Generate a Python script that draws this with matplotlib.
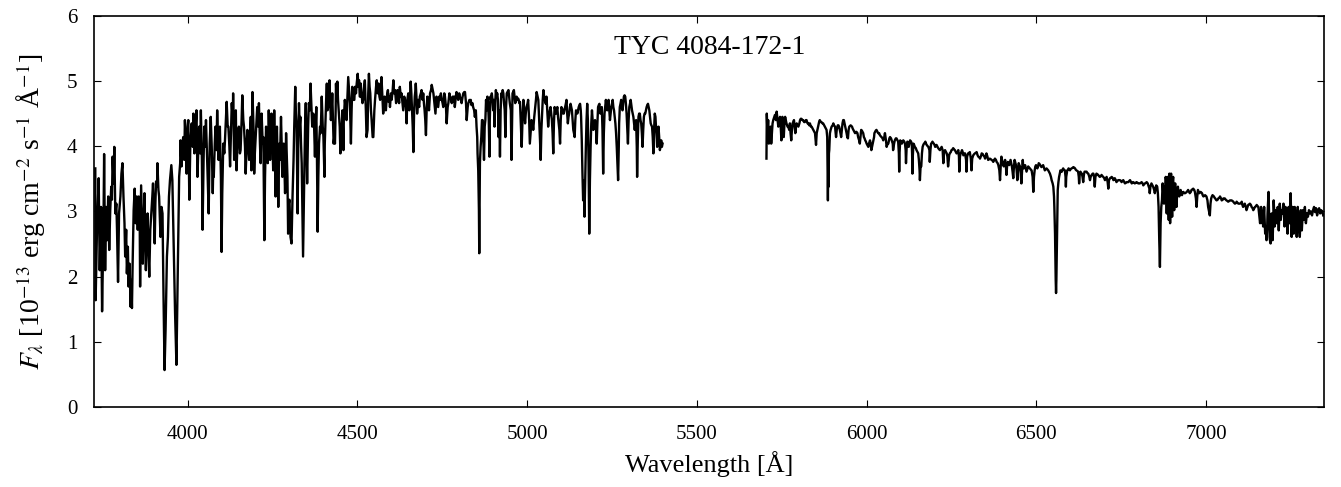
import matplotlib
matplotlib.use("Agg")
import matplotlib.pyplot as plt

# blue arm of the spectrum (Angstrom, 1e-13 erg/cm2/s/A)
blue_wave = [
    3728, 3729, 3733, 3738, 3741, 3745, 3748, 3752, 3754, 3757,
    3760, 3763, 3766, 3769, 3772, 3775, 3777, 3779, 3782, 3784,
    3787, 3790, 3792, 3795, 3798, 3802, 3805, 3808, 3811, 3814,
    3816, 3819, 3821, 3824, 3826, 3829, 3832, 3834, 3836, 3838,
    3841, 3844, 3847, 3850, 3853, 3856, 3859, 3860, 3863, 3866,
    3868, 3871, 3873, 3875, 3877, 3880, 3882, 3885, 3887, 3890,
    3893, 3896, 3898, 3901, 3903, 3905, 3907, 3910, 3911, 3914,
    3916, 3920, 3923, 3926, 3929, 3932, 3935, 3939, 3942, 3945,
    3948, 3952, 3955, 3957, 3960, 3963, 3967, 3970, 3973, 3975,
    3978, 3979, 3982, 3985, 3987, 3990, 3992, 3995, 3997, 4000,
    4002, 4005, 4008, 4012, 4015, 4017, 4020, 4022, 4025, 4026,
    4029, 4032, 4034, 4037, 4039, 4042, 4044, 4047, 4049, 4052,
    4054, 4057, 4059, 4062, 4065, 4068, 4071, 4074, 4076, 4077,
    4080, 4082, 4085, 4087, 4089, 4091, 4093, 4095, 4098, 4100,
    4102, 4105, 4108, 4110, 4113, 4115, 4118, 4120, 4123, 4125,
    4128, 4130, 4133, 4134, 4137, 4139,
    4142, 4144, 4148, 4151, 4154, 4156, 4159, 4161, 4164, 4166,
    4169, 4171, 4174, 4176, 4179, 4181, 4184, 4186, 4188, 4191,
    4194, 4196, 4198, 4200, 4203, 4205, 4208, 4210, 4213, 4215,
    4218, 4221, 4223, 4226, 4228, 4231, 4234, 4236, 4238, 4239,
    4241, 4243, 4245, 4247, 4250, 4252, 4255, 4257, 4259, 4261,
    4263, 4265, 4267, 4270, 4272, 4275, 4277, 4279, 4281, 4283,
    4285, 4287, 4290, 4292, 4294, 4296, 4298, 4300, 4303, 4306,
    4308, 4309, 4312, 4314, 4317, 4319, 4321, 4324, 4326, 4328,
    4330, 4332, 4334, 4336, 4338, 4340, 4342, 4344, 4346, 4348,
    4350, 4352, 4355, 4357, 4360, 4362, 4365, 4367, 4370, 4372,
    4375, 4377, 4379, 4381, 4383, 4385, 4387, 4390, 4392, 4395,
    4398, 4400, 4403, 4404, 4406, 4408, 4410, 4412, 4414, 4416,
    4418, 4420, 4422, 4424, 4426, 4428, 4430, 4432, 4434, 4436,
    4437, 4439, 4441, 4443, 4445, 4448, 4450, 4452, 4454, 4456,
    4459, 4460, 4463, 4466, 4468, 4471, 4473, 4476, 4478, 4481,
    4483, 4485, 4488, 4491, 4493, 4496, 4498, 4501, 4503, 4505,
    4507, 4509, 4510, 4512, 4515, 4517, 4520, 4522, 4525, 4527,
    4530, 4532, 4534, 4536, 4538, 4540, 4542, 4545, 4547, 4550,
    4552, 4555, 4557, 4560, 4562, 4565, 4567, 4569, 4571, 4574,
    4576,
    4578, 4580, 4582, 4584, 4586, 4588, 4590, 4592, 4594, 4596,
    4599, 4601, 4604, 4606, 4608, 4611, 4614, 4616, 4618, 4620,
    4623, 4625, 4628, 4630, 4633, 4635, 4638, 4640, 4643, 4645,
    4647, 4650, 4653, 4655, 4657, 4659, 4661, 4663, 4665, 4667,
    4669, 4671, 4672, 4674, 4676, 4679, 4682, 4684, 4687, 4689,
    4692, 4694, 4696, 4698, 4700, 4702, 4704, 4706, 4709, 4711,
    4714, 4717, 4719, 4722, 4724, 4726, 4728, 4730, 4733, 4736,
    4738, 4741, 4743, 4746, 4748, 4751, 4753, 4756, 4758, 4761,
    4763, 4766, 4768, 4771, 4773, 4776, 4778, 4781, 4782, 4785,
    4787, 4790, 4792, 4795, 4797, 4800, 4802, 4805, 4807, 4810,
    4812, 4815, 4817, 4820, 4822, 4825, 4827, 4830, 4832, 4834,
    4836, 4839, 4841, 4844, 4846, 4849, 4851, 4853, 4854, 4856,
    4858, 4859, 4860, 4861, 4863, 4865, 4867, 4869, 4871, 4873,
    4875, 4877, 4879, 4881, 4883, 4885, 4887, 4889, 4890, 4892,
    4894, 4896, 4898, 4900, 4902, 4904, 4906, 4908, 4910, 4912,
    4914, 4916, 4918, 4920, 4922, 4924, 4926, 4928, 4930, 4932,
    4934, 4936, 4938, 4940, 4942, 4945, 4947, 4949, 4952, 4954,
    4956, 4957, 4959, 4961, 4963, 4965, 4967, 4969, 4972, 4974,
    4977, 4979,
    4984, 4987, 4989, 4992, 4994, 4996, 4998, 5001, 5003, 5006,
    5008, 5011, 5013, 5016, 5018, 5021, 5023, 5026, 5028, 5031,
    5033, 5036, 5038, 5040, 5042, 5044, 5046, 5048, 5050, 5052,
    5055, 5057, 5060, 5062, 5065, 5067, 5069, 5071, 5073, 5075,
    5077, 5079, 5081, 5083, 5085, 5087, 5089, 5091, 5093, 5095,
    5097, 5099, 5101, 5103, 5105, 5106, 5108, 5110, 5112, 5114,
    5116, 5118, 5120, 5122, 5124, 5126, 5128, 5130, 5132, 5134,
    5136, 5138, 5140, 5142, 5144, 5146, 5148, 5150, 5152, 5154,
    5156, 5158, 5159, 5161, 5163, 5165, 5167, 5169, 5171, 5173,
    5175, 5177, 5179, 5181, 5183, 5185, 5187, 5189, 5191, 5193,
    5195, 5197, 5200, 5203, 5205, 5207, 5209, 5211, 5213, 5214,
    5216, 5218, 5220, 5222, 5224, 5226, 5228, 5230, 5232, 5234,
    5236, 5238, 5240, 5242, 5244, 5246, 5248, 5250, 5252, 5254,
    5256, 5258, 5260, 5262, 5264, 5266, 5268, 5270, 5271, 5273,
    5275, 5277, 5279, 5281, 5283, 5285, 5287, 5289, 5291, 5293,
    5295, 5297, 5299, 5301, 5303, 5305, 5307, 5309, 5311, 5313,
    5315, 5317, 5319, 5321, 5323, 5324, 5326, 5328, 5330, 5332,
    5334, 5336, 5338, 5340, 5342, 5344, 5346, 5348, 5350, 5352,
    5354, 5356, 5358, 5360, 5362, 5364, 5366, 5368, 5370, 5372,
    5374, 5376, 5378, 5379, 5381, 5383, 5385, 5387, 5389, 5391,
    5393, 5395, 5397, 5399,
]
blue_flux = [
    3.66, 1.64, 2.72, 3.51, 2.10, 3.07, 1.47, 2.72, 3.88, 2.10,
    3.07, 2.56, 3.23, 2.41, 3.02, 3.38, 3.18, 3.84, 3.43, 3.99,
    2.97, 3.12, 2.72, 1.92, 2.97, 3.23, 3.58, 3.74, 3.23, 2.82,
    2.31, 2.72, 2.05, 2.46, 1.85, 2.20, 1.54, 1.95, 1.52, 2.20,
    3.02, 3.35, 2.82, 3.23, 2.72, 3.23, 2.72, 1.85, 3.40, 2.72,
    2.20, 2.97, 3.28, 2.56, 2.10, 2.82, 2.97, 2.31, 2.00, 2.72,
    2.97, 3.23, 3.43, 2.92, 2.51, 3.12, 3.46, 3.38, 3.74, 3.33,
    3.23, 2.61, 3.07, 2.97, 1.69, 0.57, 1.18, 2.31, 2.61, 3.23,
    3.48, 3.71, 3.48, 2.97, 2.15, 1.44, 0.65, 1.69, 2.72, 3.53,
    3.74, 4.09, 3.69, 4.04, 4.14, 3.79, 4.40, 3.99, 3.58, 4.30,
    4.40, 3.18, 4.04, 4.35, 3.99, 4.50, 3.89, 4.14, 4.45, 4.55,
    3.53, 4.04, 4.30, 3.89, 4.55, 3.79, 2.72, 3.79, 4.30, 3.99,
    4.40, 3.89, 3.53, 2.97, 4.04, 4.45, 3.99, 3.28, 3.79, 3.53,
    4.04, 4.30, 3.94, 4.55, 4.14, 3.79, 4.04, 4.30, 3.53, 2.38,
    3.28, 4.04, 3.89, 4.09, 4.45, 4.68, 4.30, 4.30, 3.99, 3.69,
    4.30, 4.66, 4.40, 4.81, 3.79, 4.30,
    4.55, 3.63, 4.20, 4.30, 3.89, 3.94, 4.40, 4.78, 4.40, 4.30,
    3.99, 3.58, 4.04, 4.25, 3.99, 3.79, 4.20, 4.45, 3.63, 4.83,
    4.30, 3.58, 3.89, 4.09, 4.40, 4.60, 4.30, 4.66, 4.04, 3.74,
    4.50, 4.04, 4.14, 2.56, 3.53, 4.30, 4.04, 3.74, 4.30, 4.55,
    4.14, 3.79, 4.30, 4.50, 4.04, 3.63, 4.55, 4.04, 3.23, 3.79,
    4.30, 3.79, 3.07, 4.04, 3.79, 4.45, 4.04, 3.53, 3.79, 4.04,
    3.69, 3.28, 4.20, 3.89, 3.53, 2.66, 3.12, 3.18, 2.61, 2.51,
    3.02, 3.23, 3.79, 4.30, 4.91, 4.50, 4.30, 2.97, 4.04, 4.66,
    4.30, 4.45, 4.04, 3.74, 3.02, 2.31, 3.02, 3.69, 4.30, 4.66,
    4.04, 3.43, 4.30, 4.66, 4.55, 4.96, 4.55, 4.30, 4.50, 4.40,
    3.84, 4.30, 4.60, 3.79, 2.69, 3.53, 4.04, 4.30, 4.20, 4.76,
    4.30, 4.14, 3.53, 4.04, 4.40, 4.71, 4.96, 4.55, 4.60, 4.81,
    5.01, 4.66, 4.40, 4.55, 4.81, 4.45, 4.04, 4.14, 4.04, 4.55,
    4.96, 4.71, 4.99, 4.71, 4.55, 4.30, 3.89, 4.14, 4.30, 4.55,
    3.94, 4.40, 4.71, 4.55, 4.40, 4.81, 5.06, 4.81, 4.66, 4.04,
    4.55, 4.91, 4.71, 4.71, 4.91, 4.81, 4.96, 5.11, 4.91, 5.01,
    4.76, 4.76, 4.96, 4.81, 4.66, 4.71, 4.91, 5.01, 4.55, 4.14,
    4.25, 4.81, 5.11, 4.91, 4.81, 4.55, 4.40, 4.14, 4.14, 4.55,
    4.71, 4.91, 5.01, 4.81, 4.96, 4.76, 4.71, 4.91, 5.06, 4.71,
    4.50,
    4.60, 4.76, 4.66, 4.55, 4.71, 4.81, 4.86, 4.68, 4.76, 4.60,
    4.81, 4.71, 4.86, 5.01, 4.81, 4.86, 4.66, 4.71, 4.86, 4.81,
    4.66, 4.91, 4.76, 4.81, 4.66, 4.55, 4.76, 4.71, 4.60, 4.35,
    4.71, 4.81, 4.55, 4.76, 4.99, 4.81, 4.55, 4.30, 3.91, 4.50,
    4.76, 4.86, 4.96, 4.76, 4.50, 4.71, 4.60, 4.76, 4.81, 4.86,
    4.71, 4.81, 4.66, 4.55, 4.40, 4.17, 4.55, 4.76, 4.66, 4.55,
    4.81, 4.86, 4.94, 4.86, 4.81, 4.71, 4.60, 4.50, 4.76, 4.66,
    4.60, 4.76, 4.71, 4.81, 4.73, 4.66, 4.60, 4.81, 4.76, 4.60,
    4.35, 4.60, 4.66, 4.81, 4.76, 4.71, 4.66, 4.76, 4.68, 4.76,
    4.60, 4.76, 4.83, 4.76, 4.71, 4.81, 4.76, 4.71, 4.66, 4.76,
    4.81, 4.83, 4.83, 4.66, 4.40, 4.60, 4.66, 4.71, 4.68, 4.71,
    4.63, 4.66, 4.60, 4.55, 4.45, 4.55, 4.30, 4.14, 3.89, 3.63,
    3.02, 2.36, 3.02, 3.74, 3.99, 4.14, 4.40, 4.40, 4.09, 3.79,
    4.30, 4.40, 4.71, 4.55, 4.76, 4.66, 4.40, 3.84, 4.40, 4.76,
    4.71, 4.81, 4.71, 4.55, 4.71, 4.30, 4.66, 4.86, 4.76, 4.81,
    4.71, 4.14, 4.55, 3.84, 4.55, 4.81, 4.76, 4.86, 4.81, 4.66,
    4.55, 4.14, 4.60, 4.81, 4.83, 4.86, 4.76, 4.66, 4.55, 3.79,
    4.55, 4.81, 4.83, 4.86, 4.76, 4.66, 4.71, 4.76, 4.71, 4.73,
    4.66, 4.68,
    3.99, 4.50, 4.71, 4.50, 4.35, 4.50, 4.60, 4.65, 4.71, 4.40,
    4.04, 4.25, 4.40, 4.35, 4.25, 4.45, 4.55, 4.71, 4.83, 4.76,
    4.71, 4.35, 4.09, 3.79, 4.25, 4.50, 4.71, 4.86, 4.76, 4.71,
    4.65, 4.76, 4.50, 4.30, 4.50, 4.55, 4.60, 4.50, 4.40, 4.20,
    3.89, 4.35, 4.60, 4.55, 4.50, 4.55, 4.60, 4.45, 4.35, 4.25,
    4.04, 4.40, 4.60, 4.58, 4.55, 4.50, 4.50, 4.55, 4.60, 4.65,
    4.71, 4.50, 4.35, 4.45, 4.50, 4.60, 4.65, 4.60, 4.55, 4.40,
    4.25, 4.20, 4.14, 4.40, 4.55, 4.53, 4.50, 4.55, 4.60, 4.63,
    4.65, 4.55, 4.45, 4.09, 3.58, 3.17, 3.48, 2.92, 3.48, 3.99,
    4.40, 4.65, 4.40, 3.74, 2.66, 3.48, 3.99, 4.35, 4.55, 4.40,
    4.25, 4.35, 4.40, 4.25, 4.04, 4.35, 4.60, 4.63, 4.65, 4.55,
    4.50, 4.55, 4.60, 4.25, 3.58, 4.20, 4.50, 4.60, 4.71, 4.60,
    4.55, 4.65, 4.71, 4.55, 4.40, 4.50, 4.60, 4.65, 4.71, 4.60,
    4.55, 4.45, 4.35, 4.20, 3.99, 3.74, 3.48, 3.99, 4.35, 4.60,
    4.65, 4.71, 4.60, 4.55, 4.65, 4.76, 4.78, 4.76, 4.65, 4.50,
    4.25, 4.04, 4.40, 4.60, 4.65, 4.71, 4.63, 4.55, 4.50, 4.45,
    4.35, 4.25, 4.35, 4.40, 3.99, 3.53, 4.09, 4.45, 4.50, 4.50,
    4.40, 4.35, 4.20, 3.99, 4.25, 4.45, 4.50, 4.50, 4.55, 4.60,
    4.63, 4.65, 4.60, 4.55, 4.45, 4.35, 4.32, 4.30, 4.14, 3.89,
    4.25, 4.50, 4.45, 4.35, 4.20, 3.99, 4.14, 4.30, 4.14, 3.94,
    3.99, 4.09, 3.99, 4.04,
]

# red arm of the spectrum
red_wave = [
    5705, 5706, 5708, 5710, 5712, 5714, 5717, 5719, 5721, 5723,
    5725, 5728, 5730, 5733, 5735, 5738, 5740, 5743, 5745, 5747,
    5749, 5751, 5752, 5754, 5756, 5758, 5760, 5762, 5764, 5767,
    5769, 5772, 5774, 5776, 5778, 5780, 5782, 5784, 5786, 5788,
    5790, 5792, 5794, 5797, 5799, 5802, 5804, 5806, 5808, 5811,
    5813, 5816, 5818, 5821, 5823, 5826, 5828, 5831, 5833, 5836,
    5838, 5841, 5843, 5846, 5848, 5851, 5853, 5855, 5857, 5859,
    5860, 5862, 5865, 5867, 5870, 5872, 5875, 5877, 5880, 5882,
    5884, 5885, 5886, 5887, 5888, 5889, 5890, 5892, 5894, 5897,
    5900, 5902, 5904, 5907, 5910, 5912, 5914, 5915, 5917, 5919,
    5921, 5923, 5925, 5927, 5929, 5931, 5933, 5935, 5937, 5939,
    5941, 5943, 5945, 5947, 5949, 5951, 5953, 5955, 5957, 5959,
    5961, 5964, 5966, 5969, 5970, 5973, 5975, 5978, 5980, 5982,
    5984, 5986, 5988, 5990, 5992, 5994, 5996, 5998, 6000, 6002,
    6005, 6007, 6010, 6012, 6014, 6016, 6018, 6020, 6022, 6023,
    6025, 6027, 6029, 6032, 6034, 6037, 6039, 6042, 6044, 6047,
    6049, 6052, 6054, 6057, 6059, 6062, 6064, 6067, 6069, 6072,
    6074, 6077, 6078, 6081, 6083, 6086, 6088, 6091, 6093, 6095,
    6096, 6097, 6099, 6101, 6104, 6106, 6108, 6111, 6113, 6115,
    6116, 6118, 6120, 6122, 6124, 6126, 6128, 6131, 6133, 6134,
    6135, 6136, 6138, 6140, 6142, 6145, 6147, 6150, 6152, 6154,
    6156, 6157, 6159, 6161, 6163, 6165, 6167, 6169, 6171, 6173,
    6175, 6177, 6180, 6182, 6185, 6186, 6188, 6190, 6192, 6194,
    6196, 6198, 6200, 6202, 6204, 6206, 6209, 6211, 6214, 6216,
    6219, 6221, 6224, 6226, 6228, 6231, 6234, 6236, 6238, 6240,
    6242, 6243, 6245, 6248, 6250, 6253, 6255, 6258, 6260, 6263,
    6265, 6268, 6270, 6272, 6273, 6275, 6277, 6279, 6281, 6283,
    6285, 6288, 6290, 6293, 6294, 6296, 6299, 6302, 6304, 6307,
    6309, 6311, 6314, 6317, 6319, 6322, 6324, 6327, 6329, 6332,
    6334, 6337, 6339, 6342, 6344, 6347, 6349, 6351, 6353, 6356,
    6358, 6361, 6363, 6366, 6368, 6371, 6373, 6376, 6378, 6381,
    6383, 6386, 6388, 6391, 6393, 6395, 6397, 6399, 6401, 6403,
    6404, 6406, 6408, 6410, 6412, 6414, 6416, 6418, 6420, 6422,
    6424, 6426, 6428, 6430, 6432, 6434, 6436, 6438, 6440, 6442,
    6444, 6446, 6448, 6450, 6452, 6454, 6456, 6458, 6460, 6461,
    6463, 6465, 6467, 6469, 6471, 6474, 6476, 6479, 6481, 6484,
    6486, 6489, 6491, 6493, 6495, 6497, 6499, 6501, 6503, 6505,
    6507, 6509, 6515, 6520, 6525, 6530, 6535, 6540, 6543, 6545,
    6548, 6550, 6552, 6553, 6555, 6556, 6557, 6558, 6559, 6560,
    6561, 6562, 6563, 6565, 6567, 6569, 6571, 6573, 6575, 6577,
    6579, 6581, 6584, 6586, 6587, 6588, 6591, 6593, 6595, 6597,
    6599, 6601, 6604, 6607, 6609, 6612, 6614, 6616, 6618, 6621,
    6623, 6625, 6626, 6628, 6630, 6632, 6634, 6636, 6638, 6640,
    6642, 6645, 6648, 6650, 6653, 6656, 6658, 6660, 6663, 6666,
    6668, 6670, 6672, 6674, 6677, 6680, 6682, 6685, 6687, 6690,
    6692, 6695, 6697, 6700, 6702, 6705, 6707, 6710, 6712, 6714,
    6717, 6720, 6722, 6725, 6727, 6729, 6731, 6734, 6736, 6739,
    6741, 6744, 6746, 6749, 6751, 6754, 6756, 6759, 6761, 6764,
    6766, 6769, 6771, 6774, 6776, 6779, 6781, 6783, 6785, 6788,
    6790, 6793, 6795, 6798, 6800, 6803, 6805, 6808, 6810, 6813,
    6815, 6818, 6820, 6823, 6825, 6828, 6830, 6833, 6834, 6836,
    6839, 6842, 6844, 6847, 6849, 6851, 6853, 6856, 6858, 6860,
    6862, 6864, 6866, 6868, 6870, 6872, 6874, 6876, 6878, 6879,
    6881, 6882, 6884, 6886, 6887, 6889, 6890, 6892, 6893, 6894,
    6896, 6897, 6899, 6900, 6902, 6903, 6905, 6906, 6908, 6909,
    6911, 6913, 6915, 6917, 6919, 6921, 6923, 6925, 6927, 6929,
    6931, 6933, 6936, 6938, 6941, 6943, 6946, 6947, 6950, 6952,
    6955, 6957, 6960, 6962, 6965, 6967, 6970, 6972, 6974, 6976,
    6978, 6980, 6982, 6984, 6986, 6988, 6990, 6992, 6995, 6997,
    6999, 7001, 7004, 7006, 7008, 7010, 7011, 7013, 7015, 7017,
    7019, 7021, 7023, 7025, 7027, 7029, 7031, 7034, 7036, 7039,
    7041, 7044, 7046, 7049, 7051, 7054, 7055, 7058, 7060, 7063,
    7065, 7068, 7070, 7073, 7075, 7078, 7080, 7083, 7085, 7088,
    7090, 7093, 7095, 7098, 7100, 7103, 7105, 7107, 7109, 7112,
    7114, 7117, 7119, 7122, 7124, 7127, 7129, 7132, 7134, 7137,
    7139, 7142, 7144, 7147, 7149, 7152, 7154, 7157, 7159, 7161,
    7162, 7164, 7165, 7167, 7168, 7170, 7171, 7173, 7174, 7176,
    7178, 7180, 7181, 7183, 7184, 7185, 7187, 7188, 7190, 7192,
    7193, 7195, 7196, 7198, 7199, 7201, 7202, 7204, 7205, 7207,
    7208, 7210, 7211, 7213, 7214, 7216, 7217, 7219, 7220, 7222,
    7225, 7228, 7231, 7234, 7237, 7240, 7243, 7246, 7249, 7252,
    7255, 7258, 7261, 7264, 7267, 7270, 7273, 7276, 7279, 7282,
    7285, 7288, 7291, 7294, 7297, 7300, 7303, 7306, 7309, 7312,
    7315, 7318, 7321, 7324, 7327, 7330, 7333, 7336, 7339, 7342,
    7345,
]
red_flux = [
    3.81, 4.50, 4.20, 4.40, 4.04, 4.25, 4.30, 4.04, 4.20, 4.35,
    4.40, 4.45, 4.48, 4.40, 4.53, 4.40, 4.30, 4.40, 4.45, 4.30,
    4.09, 4.30, 4.45, 4.30, 4.14, 4.35, 4.45, 4.40, 4.35, 4.30,
    4.30, 4.25, 4.35, 4.20, 4.09, 4.25, 4.35, 4.37, 4.40, 4.30,
    4.20, 4.30, 4.35, 4.32, 4.30, 4.35, 4.40, 4.42, 4.42, 4.40,
    4.40, 4.37, 4.37, 4.40, 4.40, 4.35, 4.35, 4.32, 4.35, 4.30,
    4.30, 4.27, 4.25, 4.22, 4.20, 4.02, 4.20, 4.25, 4.30, 4.35,
    4.37, 4.40, 4.37, 4.37, 4.35, 4.35, 4.32, 4.30, 4.27, 4.25,
    4.14, 3.69, 3.17, 3.69, 3.38, 3.89, 3.94, 4.20, 4.25, 4.30,
    4.32, 4.35, 4.32, 4.30, 4.14, 4.25, 4.30, 4.32, 4.32, 4.30,
    4.25, 4.20, 4.14, 4.25, 4.35, 4.40, 4.40, 4.35, 4.30, 4.25,
    4.20, 4.14, 4.12, 4.25, 4.30, 4.31, 4.32, 4.31, 4.30, 4.27,
    4.25, 4.22, 4.20, 4.22, 4.22, 4.20, 4.14, 4.09, 4.04, 4.14,
    4.25, 4.24, 4.22, 4.20, 4.14, 4.12, 4.09, 4.07, 4.04, 4.02,
    3.99, 4.04, 4.09, 4.04, 3.94, 3.99, 4.04, 4.09, 4.14, 4.20,
    4.22, 4.24, 4.25, 4.22, 4.20, 4.20, 4.17, 4.15, 4.14, 4.12,
    4.09, 4.14, 4.20, 4.09, 3.99, 4.04, 4.04, 4.12, 4.14, 4.12,
    4.09, 4.04, 3.94, 4.04, 4.09, 4.12, 4.12, 4.09, 4.07, 3.89,
    3.61, 3.89, 4.09, 4.07, 4.04, 4.07, 4.09, 4.07, 4.04, 3.94,
    3.74, 3.99, 4.07, 4.04, 3.99, 4.04, 4.09, 4.07, 4.04, 3.89,
    3.58, 3.84, 4.04, 4.02, 3.99, 3.97, 3.94, 3.91, 3.89, 3.79,
    3.63, 3.48, 3.69, 3.69, 3.89, 3.99, 4.02, 4.04, 4.05, 4.07,
    4.04, 4.02, 4.00, 3.99, 3.94, 3.76, 3.94, 4.04, 4.05, 4.07,
    4.05, 4.04, 4.02, 3.99, 4.00, 4.02, 3.99, 3.97, 3.95, 3.94,
    3.97, 3.99, 3.94, 3.74, 3.89, 3.94, 3.91, 3.89, 3.84, 3.69,
    3.79, 3.86, 3.89, 3.91, 3.94, 3.95, 3.97, 3.95, 3.94, 3.91,
    3.89, 3.91, 3.94, 3.84, 3.61, 3.84, 3.89, 3.91, 3.94, 3.91,
    3.86, 3.89, 3.89, 3.79, 3.61, 3.84, 3.89, 3.90, 3.91, 3.81,
    3.63, 3.81, 3.86, 3.88, 3.89, 3.90, 3.91, 3.86, 3.84, 3.83,
    3.81, 3.85, 3.89, 3.88, 3.86, 3.84, 3.81, 3.85, 3.89, 3.84,
    3.79, 3.80, 3.81, 3.80, 3.79, 3.78, 3.76, 3.79, 3.81, 3.79,
    3.76, 3.74, 3.71, 3.63, 3.48, 3.69, 3.84, 3.79, 3.74, 3.71,
    3.69, 3.74, 3.79, 3.71, 3.56, 3.71, 3.76, 3.74, 3.71, 3.75,
    3.79, 3.74, 3.69, 3.61, 3.51, 3.69, 3.79, 3.75, 3.71, 3.63,
    3.48, 3.63, 3.74, 3.71, 3.69, 3.58, 3.43, 3.63, 3.79, 3.71,
    3.66, 3.69, 3.71, 3.66, 3.61, 3.66, 3.69, 3.67, 3.66, 3.64,
    3.63, 3.53, 3.30, 3.53, 3.63, 3.69, 3.71, 3.69, 3.66, 3.69,
    3.74, 3.73, 3.68, 3.71, 3.63, 3.66, 3.63, 3.58, 3.53, 3.48,
    3.43, 3.38, 3.23, 3.07, 2.66, 2.31, 1.95, 1.75, 1.95, 2.31,
    2.66, 3.07, 3.33, 3.45, 3.53, 3.58, 3.63, 3.61, 3.61, 3.64,
    3.66, 3.64, 3.63, 3.53, 3.38, 3.53, 3.63, 3.64, 3.66, 3.65,
    3.63, 3.65, 3.66, 3.67, 3.68, 3.67, 3.66, 3.64, 3.63, 3.62,
    3.61, 3.53, 3.43, 3.58, 3.61, 3.59, 3.58, 3.53, 3.45, 3.56,
    3.61, 3.61, 3.61, 3.59, 3.58, 3.53, 3.48, 3.53, 3.56, 3.58,
    3.58, 3.53, 3.38, 3.53, 3.58, 3.57, 3.56, 3.54, 3.53, 3.54,
    3.56, 3.54, 3.53, 3.51, 3.48, 3.51, 3.53, 3.45, 3.35, 3.48,
    3.51, 3.52, 3.53, 3.51, 3.48, 3.49, 3.51, 3.48, 3.45, 3.47,
    3.48, 3.48, 3.48, 3.47, 3.45, 3.47, 3.48, 3.45, 3.43, 3.44,
    3.45, 3.45, 3.45, 3.47, 3.48, 3.45, 3.43, 3.44, 3.45, 3.44,
    3.43, 3.44, 3.45, 3.44, 3.43, 3.43, 3.43, 3.44, 3.45, 3.43,
    3.40, 3.42, 3.43, 3.44, 3.45, 3.43, 3.40, 3.35, 3.28, 3.38,
    3.43, 3.40, 3.38, 3.33, 3.28, 3.34, 3.40, 3.38, 3.28, 3.07,
    2.56, 2.15, 2.82, 3.07, 3.17, 3.43, 3.28, 3.12, 3.38, 3.28,
    3.53, 3.48, 2.97, 3.48, 3.53, 3.07, 2.87, 3.58, 3.33, 2.82,
    3.53, 3.58, 3.07, 2.92, 3.48, 3.53, 3.17, 3.02, 3.38, 3.43,
    3.23, 3.07, 3.33, 3.38, 3.28, 3.23, 3.30, 3.33, 3.28, 3.25,
    3.29, 3.30, 3.28, 3.28, 3.29, 3.30, 3.32, 3.33, 3.30, 3.28,
    3.30, 3.33, 3.34, 3.35, 3.33, 3.30, 3.20, 3.07, 3.23, 3.33,
    3.30, 3.28, 3.29, 3.30, 3.29, 3.28, 3.25, 3.23, 3.24, 3.25,
    3.24, 3.23, 3.17, 3.07, 3.02, 2.97, 2.94, 3.12, 3.20, 3.23,
    3.25, 3.24, 3.23, 3.21, 3.20, 3.18, 3.17, 3.18, 3.20, 3.21,
    3.23, 3.20, 3.17, 3.18, 3.20, 3.20, 3.20, 3.18, 3.17, 3.16,
    3.15, 3.16, 3.17, 3.17, 3.17, 3.16, 3.15, 3.13, 3.12, 3.13,
    3.15, 3.13, 3.12, 3.12, 3.12, 3.13, 3.15, 3.10, 3.07, 3.10,
    3.12, 3.07, 3.02, 3.07, 3.10, 3.11, 3.12, 3.10, 3.07, 3.05,
    3.02, 3.05, 3.07, 3.08, 3.10, 3.08, 3.07, 2.92, 2.82, 2.97,
    3.07, 2.99, 2.82, 2.92, 2.77, 2.97, 3.07, 2.82, 2.66, 2.77,
    2.56, 2.77, 2.97, 3.17, 3.30, 3.07, 2.61, 2.56, 2.51, 2.77,
    2.97, 2.77, 2.56, 2.92, 3.17, 2.97, 2.77, 2.92, 3.02, 2.87,
    2.82, 2.97, 3.07, 2.87, 2.71, 2.97, 3.12, 2.97, 2.87, 3.02,
    2.97, 3.12, 2.77, 3.07, 2.97, 2.66, 3.07, 2.82, 3.28, 2.61,
    3.07, 2.66, 3.07, 2.92, 2.61, 3.07, 2.82, 2.61, 3.02, 2.71,
    3.02, 2.87, 3.07, 2.82, 2.97, 2.92, 3.02, 2.97, 3.00, 2.94,
    3.02, 3.07, 2.99, 3.05, 2.94, 3.02, 3.05, 2.97, 3.02, 3.00,
    2.94,
]

x_ticks = [4000, 4500, 5000, 5500, 6000, 6500, 7000]
y_ticks = [0, 1, 2, 3, 4, 5, 6]
star_name = "TYC 4084-172-1"

plt.rcParams['font.family'] = ['Liberation Serif', 'DejaVu Serif']
plt.rcParams['mathtext.fontset'] = 'stix'

fig = plt.figure(figsize=(13.41, 4.87), dpi=100)
ax = fig.add_axes([0.0703, 0.1637, 0.9172, 0.8041])

ax.plot(blue_wave, blue_flux, color="black", linewidth=1.7)
ax.plot(red_wave, red_flux, color="black", linewidth=1.7)

ax.set_xlim(3725, 7348)
ax.set_ylim(0, 6)
ax.set_xticks(x_ticks)
ax.set_yticks(y_ticks)
ax.tick_params(axis='both', which='both', direction='in', top=True, right=True,
               length=5, width=0.8, labelsize=15)
ax.tick_params(axis='x', pad=13)
ax.tick_params(axis='y', pad=12)
for s in ax.spines.values():
    s.set_linewidth(1.2)

ax.set_xlabel("Wavelength [Å]", fontsize=19, labelpad=5)
ax.set_ylabel(r"$F_\lambda$ [10$^{-13}$ erg cm$^{-2}$ s$^{-1}$ Å$^{-1}$]", fontsize=20, labelpad=14)
ax.text(0.5, 0.92, star_name, transform=ax.transAxes, ha='center', va='center', fontsize=20)

fig.savefig("out.png", dpi=100)
